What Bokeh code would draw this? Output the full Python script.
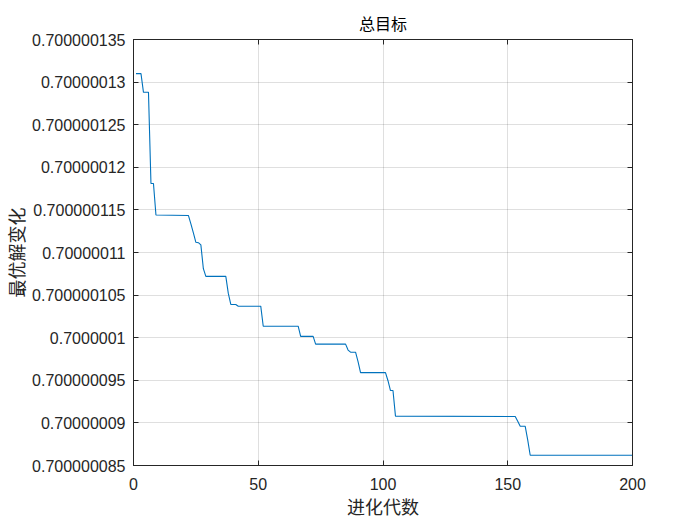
from bokeh.plotting import figure
from bokeh.models import Range1d, LinearAxis, FixedTicker, CustomJSTickFormatter
from bokeh.embed import file_html
from bokeh.resources import INLINE

# generation index (vertices where the best-value curve changes slope)
gens = [1, 3, 4, 6, 7, 8, 9, 22, 23, 24, 25, 26, 27, 28, 29, 37, 38, 39, 41, 42, 51, 52,
        66, 67, 72, 73, 85, 86, 87, 89, 90, 91, 101, 102, 103, 104, 105,
        153, 154, 155, 157, 158, 159, 200]
best = [0.7000001310, 0.7000001310, 0.7000001288, 0.7000001288, 0.7000001181, 0.7000001181,
        0.7000001144, 0.70000011435, 0.70000011335, 0.7000001123, 0.7000001112, 0.70000011115,
        0.7000001109, 0.7000001081, 0.7000001072, 0.7000001072, 0.7000001052, 0.7000001039,
        0.7000001039, 0.7000001037, 0.7000001037, 0.70000010135, 0.70000010135, 0.70000010015,
        0.70000010015, 0.70000009925, 0.70000009925, 0.70000009855, 0.7000000983, 0.7000000983,
        0.7000000972, 0.7000000959, 0.7000000959, 0.70000009495, 0.7000000938, 0.7000000938,
        0.7000000908, 0.70000009075, 0.7000000902, 0.7000000896, 0.7000000896, 0.7000000880,
        0.7000000862, 0.7000000862]

x_ticks = [0, 50, 100, 150, 200]
y_ticks = [0.700000085, 0.70000009, 0.700000095, 0.7000001, 0.700000105, 0.70000011,
           0.700000115, 0.70000012, 0.700000125, 0.70000013, 0.700000135]
y_tick_labels = ["0.700000085", "0.70000009", "0.700000095", "0.7000001", "0.700000105",
                 "0.70000011", "0.700000115", "0.70000012", "0.700000125", "0.70000013",
                 "0.700000135"]

title_text = "总目标"
x_label = "进化代数"
y_label = "最优解变化"

AX = "#262626"
CJK = "Noto Sans CJK SC"
LAT = "Liberation Sans"

p = figure(frame_width=499, frame_height=426, output_backend="svg", toolbar_location=None,
           tools="", x_range=Range1d(0, 200), y_range=Range1d(y_ticks[0], y_ticks[-1]),
           min_border_left=128, min_border_right=40, min_border_top=39, min_border_bottom=51)
p.background_fill_color = "white"
p.border_fill_color = "white"
p.outline_line_color = AX
p.outline_line_width = 1

xt = FixedTicker(ticks=x_ticks)
yt = FixedTicker(ticks=y_ticks)
yfmt = CustomJSTickFormatter(args=dict(tv=y_ticks, tl=y_tick_labels), code="""
let b = 0;
for (let i = 0; i < tv.length; i++) {
  if (Math.abs(tv[i] - tick) < Math.abs(tv[b] - tick)) b = i;
}
return tl[b];
""")
blank = CustomJSTickFormatter(code="return '';")

p.line(gens, best, line_color="#0072BD", line_width=1.1)

def style_axis(ax, ticker):
    ax.ticker = ticker
    ax.axis_line_color = AX
    ax.major_tick_line_color = AX
    ax.major_tick_in = 5
    ax.major_tick_out = 0
    ax.minor_tick_line_color = None
    ax.major_label_text_color = AX
    ax.major_label_text_font = LAT
    ax.major_label_text_font_size = "16px"
    ax.axis_label_text_font = CJK
    ax.axis_label_text_font_size = "18px"
    ax.axis_label_text_font_style = "normal"
    ax.axis_label_text_color = AX

xa = p.xaxis[0]
ya = p.yaxis[0]
style_axis(xa, xt)
style_axis(ya, yt)
ya.formatter = yfmt
xa.axis_label = x_label
ya.axis_label = y_label
xa.major_label_standoff = 12
ya.major_label_standoff = 8
xa.axis_label_standoff = 0
ya.axis_label_standoff = 0

top = LinearAxis(formatter=blank)
right = LinearAxis(formatter=blank)
style_axis(top, xt)
style_axis(right, yt)
top.major_label_standoff = 0
right.major_label_standoff = 0
p.add_layout(top, "above")
p.add_layout(right, "right")

p.xgrid.ticker = xt
p.ygrid.ticker = yt
for g in (p.xgrid, p.ygrid):
    g.grid_line_color = AX
    g.grid_line_alpha = 0.15
    g.grid_line_width = 1

p.title.text = title_text
p.title.align = "center"
p.title.text_font = CJK
p.title.text_font_size = "16px"
p.title.text_font_style = "normal"
p.title.text_color = "#000000"
p.title.standoff = 9

open("out.html", "w").write(file_html(p, INLINE))
